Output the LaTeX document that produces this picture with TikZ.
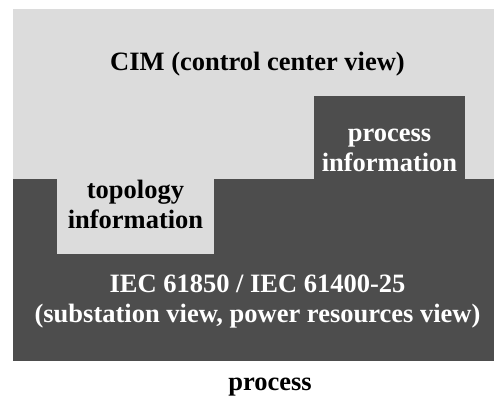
\documentclass[tikz,border=0pt]{standalone}
\usepackage{fontspec}
\setmainfont{Liberation Serif}
\usepackage{xcolor}
\definecolor{cimgray}{RGB}{220,220,220}
\definecolor{iecgray}{RGB}{77,77,77}
\tikzset{
    label text/.style={font=\bfseries\fontsize{26.5}{30}\selectfont, inner sep=0pt, align=center, anchor=base}
}
\begin{document}
\begin{tikzpicture}[x=1pt, y=-1pt]
        \useasboundingbox (0,0) rectangle (494,397);
        \fill [cimgray] (13,9) rectangle (494,179);
        \fill [iecgray] (13,179) rectangle (494,361);
        \fill [iecgray] (314,96) rectangle (465,179);
        \fill [cimgray] (57,179) rectangle (214,254);

        \node [label text, black] (cim) at (257.5,70.5) {CIM (control center view)};
        \node [label text, white] (procinfo1) at (389.5,141.5) {process};
        \node [label text, white] (procinfo2) at (389.5,171.5) {information};
        \node [label text, black] (topo1) at (135.5,198) {topology};
        \node [label text, black] (topo2) at (135.5,228) {information};
        \node [label text, white] (iec1) at (257.5,292) {IEC 61850 / IEC 61400-25};
        \node [label text, white] (iec2) at (257.5,322) {(substation view, power resources view)};
        \node [label text, black] (process) at (270,390) {process};
    \end{tikzpicture}
\end{document}
